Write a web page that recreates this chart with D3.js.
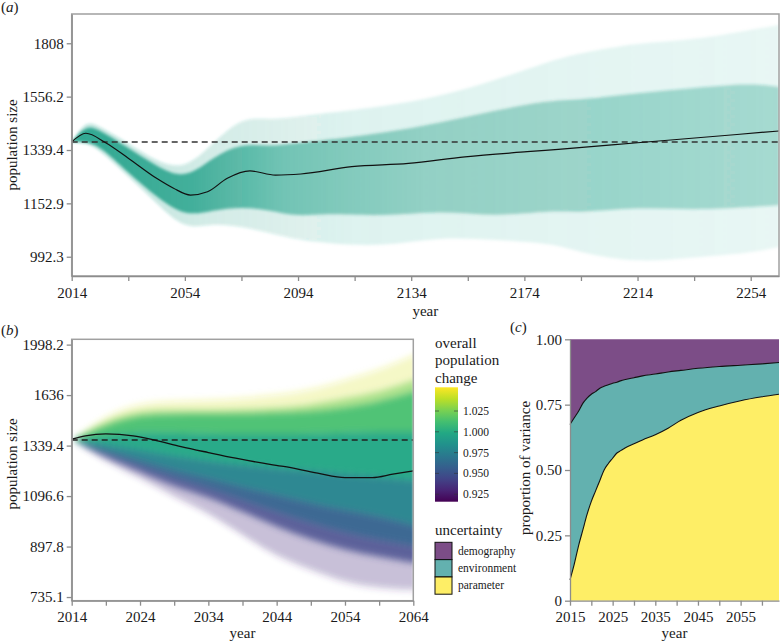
<!DOCTYPE html>
<html><head><meta charset="utf-8">
<script src="https://cdn.jsdelivr.net/npm/d3@7"></script>
<style>
body{margin:0;background:#fff}
</style></head><body>
<svg id="chart" width="780" height="641"></svg>
<script>
// ---------- DATA ----------
// Panel (a): long-term projection (2014-2264)
const yearsA = [2014, 2019, 2024, 2034, 2044, 2054, 2064, 2074, 2084, 2094, 2104, 2124, 2144, 2164, 2184, 2194, 2214, 2234, 2254, 2264];
const outerHiA = [1370, 1457, 1430, 1366, 1296, 1266, 1365, 1471, 1457, 1471, 1486, 1513, 1556, 1631, 1725, 1759, 1810, 1825, 1877, 1904];
const outerLoA = [1370, 1367, 1339, 1243, 1154, 1069, 1091, 1080, 1061, 1040, 1031, 1020, 1050, 1040, 1031, 1003, 975, 991, 1003, 1020];
const coreHiA = [1370, 1437, 1417, 1347, 1280, 1231, 1314, 1366, 1352, 1366, 1378, 1405, 1445, 1499, 1542, 1542, 1572, 1595, 1617, 1599];
const coreLoA = [1370, 1371, 1355, 1256, 1174, 1110, 1131, 1142, 1131, 1110, 1122, 1110, 1131, 1110, 1131, 1122, 1141, 1131, 1141, 1147];
const meanYearsA = [2014, 2019, 2026, 2034, 2044, 2050, 2056, 2062, 2069, 2077, 2086, 2095, 2113, 2133, 2153, 2175, 2186, 2214, 2264];
const meanA = [1370, 1404, 1367, 1309, 1237, 1203, 1180, 1191, 1237, 1263, 1248, 1252, 1278, 1290, 1314, 1333, 1342, 1367, 1413];
const initialPop = 1370;
const yTicksA = [992.3, 1152.9, 1339.4, 1556.2, 1808];

// Panel (b): short-term projection (2014-2064), band edges ordered from top to bottom
const yearsB = [2014, 2019, 2024, 2029, 2034, 2039, 2044, 2049, 2054, 2059, 2064];
const edgeB0 = [1370, 1513, 1586, 1599, 1605, 1618, 1637, 1670, 1737, 1808, 1918];
const edgeB1 = [1370, 1483, 1543, 1543, 1543, 1549, 1555, 1574, 1618, 1657, 1737];
const edgeB2 = [1370, 1454, 1513, 1518, 1518, 1518, 1525, 1531, 1555, 1593, 1657];
const edgeB3 = [1370, 1397, 1414, 1409, 1403, 1403, 1403, 1403, 1409, 1414, 1414];
const edgeB4 = [1370, 1348, 1317, 1286, 1261, 1241, 1226, 1212, 1197, 1183, 1169];
const edgeB5 = [1370, 1317, 1266, 1217, 1179, 1137, 1102, 1068, 1038, 1014, 978];
const edgeB6 = [1370, 1296, 1236, 1179, 1133, 1080, 1030, 986, 948, 922, 900];
const edgeB7 = [1370, 1276, 1207, 1137, 1093, 1030, 971, 922, 886, 862, 842];
const edgeB8 = [1370, 1256, 1179, 1093, 1026, 940, 862, 819, 778, 762, 756];
const bandChangeB = [1.045, 1.027, 1.013, 0.998, 0.978, 0.958, 0.944, 0.936];
const meanYearsB = [2014, 2016, 2019, 2023, 2026, 2030, 2034, 2038, 2042, 2045, 2050, 2054, 2058, 2061, 2064];
const meanB = [1374, 1392, 1403, 1392, 1370, 1334, 1303, 1274, 1249, 1233, 1201, 1180, 1180, 1196, 1212];
const yTicksB = [735.1, 897.8, 1096.6, 1339.4, 1636, 1998.2];
const changeTicks = [0.925, 0.950, 0.975, 1.000, 1.025];
const changeRange = [0.916, 1.0535];

// Panel (c): proportion of variance
const yearsC = [2015, 2016, 2017, 2018, 2019, 2020, 2021, 2022, 2023, 2024, 2025, 2026, 2027, 2028, 2030, 2032, 2035, 2038, 2041, 2045, 2050, 2055, 2060, 2064];
const parameterC = [0.08, 0.14, 0.21, 0.27, 0.33, 0.38, 0.42, 0.46, 0.50, 0.525, 0.545, 0.565, 0.575, 0.585, 0.60, 0.615, 0.635, 0.66, 0.69, 0.72, 0.745, 0.765, 0.78, 0.79];
const environmentC = [0.594, 0.56, 0.515, 0.485, 0.445, 0.41, 0.38, 0.353, 0.32, 0.301, 0.287, 0.271, 0.267, 0.261, 0.253, 0.245, 0.232, 0.215, 0.191, 0.169, 0.151, 0.136, 0.126, 0.121];
const demographyC = [0.326, 0.30, 0.275, 0.245, 0.225, 0.21, 0.20, 0.187, 0.18, 0.174, 0.168, 0.164, 0.158, 0.154, 0.147, 0.14, 0.133, 0.125, 0.119, 0.111, 0.104, 0.099, 0.094, 0.089];
const uncertaintyKeys = ["demography", "environment", "parameter"];
const uncertaintyColors = ["#440154", "#21908d", "#fde725"];

// ---------- DRAWING ----------
const FONT = "Liberation Serif";
const svg = d3.select("#chart");
const defs = svg.append("defs");
const axisGray = "#8c8c8c";
const FS = 15;

function blur(id, sd) {
  defs.append("filter").attr("id", id).attr("x", "-5%").attr("y", "-10%").attr("width", "110%").attr("height", "120%")
    .append("feGaussianBlur").attr("stdDeviation", sd);
}
blur("softA", "1.2 1.8");
blur("softB", "1 3.5");

function txt(x, y, s, size, anchor) {
  return svg.append("text").attr("x", x).attr("y", y).attr("font-size", size || FS)
    .attr("text-anchor", anchor || "start").attr("font-family", FONT).attr("fill", "#1a1a1a").text(s);
}
function styleAxis(g) {
  g.attr("font-family", FONT);
  g.select(".domain").attr("stroke", axisGray).attr("stroke-width", 1.3);
  g.selectAll(".tick line").attr("stroke", axisGray).attr("stroke-width", 1.3);
  g.selectAll(".tick text").attr("font-size", FS).attr("fill", "#1a1a1a").attr("font-family", FONT);
}
function panelLabel(x, y, letter) {
  const t = svg.append("text").attr("x", x).attr("y", y).attr("font-size", FS).attr("font-family", FONT).attr("fill", "#1a1a1a");
  t.append("tspan").text("(");
  t.append("tspan").attr("font-style", "italic").text(letter);
  t.append("tspan").text(")");
}

// ===== Panel (a) =====
const pa = {l: 71.7, r: 779, t: 14, b: 276};
const xA = d3.scaleLinear().domain([2014, 2264]).range([pa.l, pa.r]);
const yA = d3.scaleLog().domain([940, 1963]).range([pa.b, pa.t]);
defs.append("clipPath").attr("id", "clipA").append("rect")
  .attr("x", pa.l).attr("y", pa.t).attr("width", pa.r - pa.l).attr("height", pa.b - pa.t);

function xGrad(id, stops) {
  const g = defs.append("linearGradient").attr("id", id).attr("gradientUnits", "userSpaceOnUse")
    .attr("x1", pa.l).attr("x2", pa.r).attr("y1", 0).attr("y2", 0);
  stops.forEach(s => g.append("stop").attr("offset", s[0]).attr("stop-color", "#1fa088").attr("stop-opacity", s[1]));
}
xGrad("gOuterA", [[0, 0.3], [0.2, 0.2], [0.4, 0.13], [1, 0.09]]);
xGrad("gCoreA", [[0, 0.88], [0.17, 0.8], [0.3, 0.55], [0.5, 0.42], [1, 0.33]]);

const gA = svg.append("g").attr("clip-path", "url(#clipA)");
const bandA = (hi, lo) => d3.area().curve(d3.curveBasis)
  .x((d, i) => xA(yearsA[i])).y0((d, i) => yA(lo[i])).y1((d, i) => yA(hi[i]));
gA.append("g").attr("filter", "url(#softA)").call(g => {
  g.append("path").attr("d", bandA(outerHiA, outerLoA)(yearsA)).attr("fill", "url(#gOuterA)");
  g.append("path").attr("d", bandA(coreHiA, coreLoA)(yearsA)).attr("fill", "url(#gCoreA)");
});
gA.append("line").attr("x1", pa.l).attr("x2", pa.r).attr("y1", yA(initialPop)).attr("y2", yA(initialPop))
  .attr("stroke", "#333").attr("stroke-width", 1.5).attr("stroke-dasharray", "6,4");
gA.append("path").attr("d", d3.line().curve(d3.curveMonotoneX)
  .x((d, i) => xA(meanYearsA[i])).y((d, i) => yA(meanA[i]))(meanYearsA))
  .attr("fill", "none").attr("stroke", "#111").attr("stroke-width", 1.2);

svg.append("rect").attr("x", pa.l).attr("y", pa.t).attr("width", pa.r - pa.l).attr("height", pa.b - pa.t)
  .attr("fill", "none").attr("stroke", "#a0a0a0").attr("stroke-width", 1.5);
svg.append("g").attr("transform", `translate(0,${pa.b})`)
  .call(d3.axisBottom(xA).tickValues(d3.range(2014, 2264, 20)).tickSize(5).tickSizeOuter(0).tickPadding(6)
    .tickFormat(v => (v - 2014) % 40 === 0 ? String(v) : ""))
  .call(styleAxis);
svg.append("g").attr("transform", `translate(${pa.l},0)`)
  .call(d3.axisLeft(yA).tickValues(yTicksA).tickSize(5).tickSizeOuter(0).tickPadding(3).tickFormat(v => String(v)))
  .call(styleAxis);
txt((pa.l + pa.r) / 2, 316, "year", FS, "middle");
svg.append("text").attr("transform", `translate(17,${(pa.t + pa.b) / 2}) rotate(-90)`).attr("text-anchor", "middle")
  .attr("font-size", FS).attr("font-family", FONT).attr("fill", "#1a1a1a").text("population size");
panelLabel(1, 12, "a");

// ===== Panel (b) =====
const pb = {l: 71.7, r: 413.3, t: 339.3, b: 600.7};
const xB = d3.scaleLinear().domain([2014, 2064]).range([pb.l, pb.r]);
const yB = d3.scaleLog().domain([724.5, 2040.7]).range([pb.b, pb.t]);
const colorChange = d3.scaleSequential(d3.interpolateViridis).domain(changeRange);
defs.append("clipPath").attr("id", "clipB").append("rect")
  .attr("x", pb.l).attr("y", pb.t).attr("width", pb.r - pb.l).attr("height", pb.b - pb.t);
const edgesB = [edgeB0, edgeB1, edgeB2, edgeB3, edgeB4, edgeB5, edgeB6, edgeB7, edgeB8];
const bandOpacityB = [0.25, 0.65, 0.95, 0.97, 0.97, 0.95, 0.85, 0.3];
const gB = svg.append("g").attr("clip-path", "url(#clipB)");
const gBands = gB.append("g").attr("filter", "url(#softB)");
bandChangeB.forEach((v, k) => {
  const hi = edgesB[k], lo = edgesB[k + 1];
  gBands.append("path")
    .attr("d", d3.area().curve(d3.curveBasis)
      .x((d, i) => xB(yearsB[i])).y0((d, i) => yB(lo[i])).y1((d, i) => yB(hi[i]))(yearsB))
    .attr("fill", colorChange(v)).attr("fill-opacity", bandOpacityB[k]);
});
gB.append("line").attr("x1", pb.l).attr("x2", pb.r).attr("y1", yB(initialPop)).attr("y2", yB(initialPop))
  .attr("stroke", "#222").attr("stroke-width", 1.5).attr("stroke-dasharray", "6,4");
gB.append("path").attr("d", d3.line().curve(d3.curveMonotoneX)
  .x((d, i) => xB(meanYearsB[i])).y((d, i) => yB(meanB[i]))(meanYearsB))
  .attr("fill", "none").attr("stroke", "#111").attr("stroke-width", 1.3);
svg.append("rect").attr("x", pb.l).attr("y", pb.t).attr("width", pb.r - pb.l).attr("height", pb.b - pb.t)
  .attr("fill", "none").attr("stroke", "#a0a0a0").attr("stroke-width", 1.5);
svg.append("g").attr("transform", `translate(0,${pb.b})`)
  .call(d3.axisBottom(xB).tickValues(d3.range(2014, 2065, 5)).tickSize(5).tickSizeOuter(0).tickPadding(6)
    .tickFormat(v => (v - 2014) % 10 === 0 ? String(v) : ""))
  .call(styleAxis);
svg.append("g").attr("transform", `translate(${pb.l},0)`)
  .call(d3.axisLeft(yB).tickValues(yTicksB).tickSize(5).tickSizeOuter(0).tickPadding(3).tickFormat(v => String(v)))
  .call(styleAxis);
txt((pb.l + pb.r) / 2, 638, "year", FS, "middle");
svg.append("text").attr("transform", `translate(17,${(pb.t + pb.b) / 2 - 6}) rotate(-90)`).attr("text-anchor", "middle")
  .attr("font-size", FS).attr("font-family", FONT).attr("fill", "#1a1a1a").text("population size");
panelLabel(1, 335, "b");

// Legend: colour bar
const cb = {x: 435, w: 23, t: 387.3, b: 501.7};
const yCb = d3.scaleLinear().domain(changeRange).range([cb.b, cb.t]);
["overall", "population", "change"].forEach((s, i) => txt(cb.x, 348 + i * 17.3, s));
const lg = defs.append("linearGradient").attr("id", "cbGrad").attr("x1", 0).attr("x2", 0).attr("y1", 1).attr("y2", 0);
d3.range(0, 1.0001, 0.1).forEach(t => lg.append("stop").attr("offset", t).attr("stop-color", d3.interpolateViridis(t)));
svg.append("rect").attr("x", cb.x).attr("y", cb.t).attr("width", cb.w).attr("height", cb.b - cb.t).attr("fill", "url(#cbGrad)");
changeTicks.forEach(v => {
  const y = yCb(v);
  svg.append("line").attr("x1", cb.x).attr("x2", cb.x + 4).attr("y1", y).attr("y2", y).attr("stroke", "#333").attr("stroke-opacity", 0.6);
  svg.append("line").attr("x1", cb.x + cb.w - 4).attr("x2", cb.x + cb.w).attr("y1", y).attr("y2", y).attr("stroke", "#333").attr("stroke-opacity", 0.6);
  txt(cb.x + cb.w + 5, y + 4, v.toFixed(3), 11.5);
});
// Legend: uncertainty
txt(cb.x, 535, "uncertainty");
uncertaintyKeys.forEach((k, i) => {
  const y0 = 542.3 + i * 17.3;
  svg.append("rect").attr("x", cb.x).attr("y", y0).attr("width", 17).attr("height", 17.3)
    .attr("fill", uncertaintyColors[i]).attr("fill-opacity", 0.7).attr("stroke", "#111").attr("stroke-width", 1);
  txt(cb.x + 23, y0 + 12.5, k, 11.5);
});

// ===== Panel (c) =====
const pc = {l: 570, r: 779, t: 339.3, b: 600.7};
const xC = d3.scaleLinear().domain([2015, 2064]).range([pc.l, pc.r]);
const yC = d3.scaleLinear().domain([0, 1]).range([pc.b, pc.t]);
const tableC = yearsC.map((yr, i) => ({year: yr, parameter: parameterC[i], environment: environmentC[i], demography: demographyC[i]}));
const stackC = d3.stack().keys(["parameter", "environment", "demography"])(tableC);
const fillC = {parameter: "#fde725", environment: "#21908d", demography: "#440154"};
stackC.forEach(s => {
  svg.append("path").attr("d", d3.area().curve(d3.curveMonotoneX)
    .x(d => xC(d.data.year)).y0(d => yC(d[0])).y1(d => yC(d[1]))(s))
    .attr("fill", fillC[s.key]).attr("fill-opacity", 0.7);
});
stackC.slice(0, 2).forEach(s => {
  svg.append("path").attr("d", d3.line().curve(d3.curveMonotoneX)
    .x(d => xC(d.data.year)).y(d => yC(d[1]))(s))
    .attr("fill", "none").attr("stroke", "#111").attr("stroke-width", 1.1);
});
svg.append("g").attr("transform", `translate(0,${pc.b})`)
  .call(d3.axisBottom(xC).tickValues(d3.range(2015, 2064, 5)).tickSize(5).tickSizeOuter(0).tickPadding(6)
    .tickFormat(v => (v - 2015) % 10 === 0 ? String(v) : ""))
  .call(styleAxis);
svg.append("g").attr("transform", `translate(${pc.l},0)`)
  .call(d3.axisLeft(yC).tickValues([0, 0.25, 0.5, 0.75, 1]).tickSize(5).tickSizeOuter(0).tickPadding(3)
    .tickFormat(v => v === 0 ? "0" : v.toFixed(2)))
  .call(styleAxis);
txt((pc.l + pc.r) / 2, 638, "year", FS, "middle");
svg.append("text").attr("transform", `translate(530,468) rotate(-90)`).attr("text-anchor", "middle")
  .attr("font-size", FS).attr("font-family", FONT).attr("fill", "#1a1a1a").text("proportion of variance");
panelLabel(510, 332, "c");
</script></body></html>
